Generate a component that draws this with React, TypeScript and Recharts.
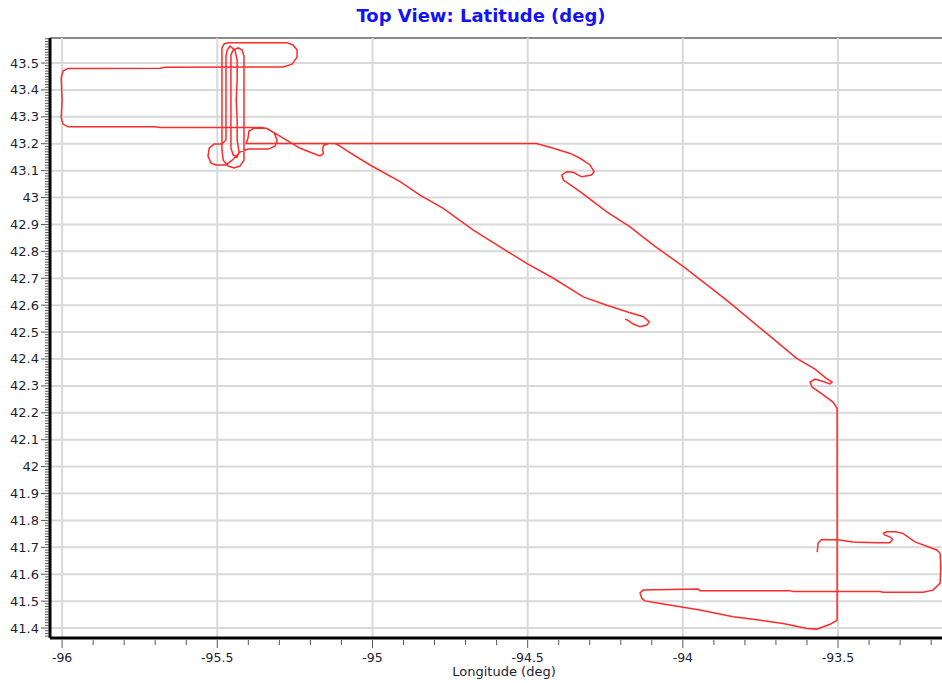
import { LineChart, Line, XAxis, YAxis, CartesianGrid, Label } from "recharts"

const W = 942
const H = 683

// flight track as [longitude, latitude], in flight order
const hookLeg: [number, number][] = [
  [-94.186, 42.548], [-94.179, 42.545], [-94.16, 42.53], [-94.138, 42.52],
  [-94.116, 42.526], [-94.108, 42.538], [-94.127, 42.557], [-94.17, 42.572],
  [-94.245, 42.6], [-94.321, 42.631], [-94.417, 42.7], [-94.503, 42.755],
  [-94.589, 42.817], [-94.675, 42.879], [-94.772, 42.96], [-94.847, 43.009],
  [-94.911, 43.059], [-95.008, 43.121], [-95.083, 43.174], [-95.104, 43.191],
  [-95.12, 43.201], [-95.142, 43.201], [-95.158, 43.193], [-95.161, 43.179],
  [-95.158, 43.164], [-95.169, 43.155], [-95.19, 43.164], [-95.233, 43.183],
  [-95.282, 43.217], [-95.34, 43.257],
]

const boxLeg: [number, number][] = [
  [-95.356, 43.26], [-95.684, 43.26], [-95.7, 43.263], [-95.981, 43.263],
  [-95.997, 43.273], [-96.003, 43.296], [-96.0, 43.362], [-96.003, 43.444],
  [-95.997, 43.47], [-95.981, 43.48], [-95.684, 43.481], [-95.668, 43.484],
  [-95.288, 43.485], [-95.259, 43.496], [-95.243, 43.522], [-95.243, 43.548],
  [-95.256, 43.567], [-95.275, 43.575],
]

// back-and-forth passes around -95.45
const clusterLeg: [number, number][] = [
  [-95.41, 43.575], [-95.465, 43.575], [-95.478, 43.571], [-95.485, 43.556],
  [-95.485, 43.362], [-95.485, 43.177], [-95.481, 43.139], [-95.465, 43.117],
  [-95.446, 43.11], [-95.427, 43.117], [-95.414, 43.139], [-95.414, 43.362],
  [-95.414, 43.526], [-95.42, 43.548], [-95.433, 43.556], [-95.449, 43.548],
  [-95.456, 43.53], [-95.456, 43.362], [-95.456, 43.184], [-95.449, 43.158],
  [-95.436, 43.151], [-95.43, 43.169], [-95.436, 43.214], [-95.436, 43.288],
  [-95.439, 43.362], [-95.436, 43.437], [-95.436, 43.511], [-95.443, 43.548],
  [-95.459, 43.563], [-95.468, 43.548], [-95.472, 43.526], [-95.472, 43.362],
  [-95.472, 43.214], [-95.485, 43.199], [-95.51, 43.199], [-95.526, 43.184],
  [-95.53, 43.154], [-95.52, 43.128], [-95.504, 43.121], [-95.472, 43.121],
  [-95.452, 43.139], [-95.427, 43.169], [-95.401, 43.18], [-95.336, 43.18],
  [-95.314, 43.191], [-95.307, 43.214], [-95.317, 43.24], [-95.343, 43.258],
  [-95.381, 43.258], [-95.398, 43.247], [-95.401, 43.221], [-95.407, 43.201],
]

const eastLeg: [number, number][] = [
  [-94.814, 43.201], [-94.525, 43.201], [-94.471, 43.201], [-94.417, 43.183],
  [-94.363, 43.164], [-94.331, 43.146], [-94.299, 43.121], [-94.286, 43.096],
  [-94.294, 43.084], [-94.326, 43.077], [-94.353, 43.094], [-94.374, 43.096],
  [-94.39, 43.084], [-94.385, 43.065], [-94.331, 43.022], [-94.245, 42.947],
  [-94.17, 42.891], [-94.095, 42.823], [-93.998, 42.743], [-93.859, 42.619],
  [-93.73, 42.495], [-93.633, 42.402], [-93.574, 42.362], [-93.539, 42.329],
  [-93.519, 42.314], [-93.526, 42.307], [-93.552, 42.318], [-93.574, 42.325],
  [-93.59, 42.314], [-93.584, 42.296], [-93.552, 42.27], [-93.516, 42.24],
  [-93.503, 42.217],
]

const southLeg: [number, number][] = [
  [-93.503, 41.429], [-93.526, 41.414], [-93.568, 41.396], [-93.6, 41.398],
  [-93.677, 41.417], [-93.774, 41.433], [-93.838, 41.442], [-93.945, 41.467],
  [-94.073, 41.491], [-94.122, 41.501], [-94.132, 41.51], [-94.138, 41.53],
  [-94.128, 41.541], [-93.951, 41.545], [-93.945, 41.539], [-93.655, 41.539],
  [-93.645, 41.536], [-93.365, 41.536], [-93.355, 41.533], [-93.226, 41.533],
  [-93.194, 41.541], [-93.171, 41.567], [-93.169, 41.627], [-93.171, 41.678],
  [-93.182, 41.69], [-93.252, 41.72], [-93.291, 41.752], [-93.316, 41.758],
  [-93.343, 41.758], [-93.354, 41.752], [-93.349, 41.745], [-93.333, 41.739],
  [-93.324, 41.729], [-93.333, 41.717], [-93.375, 41.717], [-93.452, 41.72],
  [-93.494, 41.727], [-93.553, 41.729], [-93.564, 41.716], [-93.567, 41.682],
]

const lonDomain = [-96.039, -93.165]
const latDomain = [41.363, 43.593]

const lonLabels = [-96, -95.5, -95, -94.5, -94, -93.5]
const latLabels = [
  41.4, 41.5, 41.6, 41.7, 41.8, 41.9, 42, 42.1, 42.2, 42.3, 42.4,
  42.5, 42.6, 42.7, 42.8, 42.9, 43, 43.1, 43.2, 43.3, 43.4, 43.5,
]

const track = [...hookLeg, ...boxLeg, ...clusterLeg, ...eastLeg, ...southLeg].map(
  ([lon, lat]) => ({ lon, lat })
)

// minor ticks: every 0.1 deg on longitude, every 0.01 deg on latitude
const lonTicks: number[] = []
for (let i = -960; i <= -932; i++) lonTicks.push(i / 10)
const latTicks: number[] = []
for (let i = 4137; i <= 4359; i++) latTicks.push(i / 100)

const FONT = "DejaVu Sans, Verdana, sans-serif"

function LatTick(props: any) {
  const { y, payload } = props
  const v = payload.value as number
  const major = Math.abs(v * 10 - Math.round(v * 10)) < 1e-6
  return (
    <g>
      <line x1={major ? 41 : 45} x2={49} y1={y} y2={y} stroke="#555" strokeWidth={1} />
      {major && (
        <text x={39} y={y + 4.5} textAnchor="end" fontSize={13} fill="#1d1d33" fontFamily={FONT}>
          {String(Number(v.toFixed(1)))}
        </text>
      )}
    </g>
  )
}

function LonTick(props: any) {
  const { x, payload } = props
  const v = payload.value as number
  const major = Math.abs(v * 2 - Math.round(v * 2)) < 1e-6
  return (
    <g>
      <line x1={x} x2={x} y1={640} y2={major ? 648 : 645} stroke="#555" strokeWidth={1} />
      {major && (
        <text x={x} y={662} textAnchor="middle" fontSize={12.5} fill="#1d1d33" fontFamily={FONT}>
          {String(v)}
        </text>
      )}
    </g>
  )
}

export default function App() {
  return (
    <div style={{ position: "absolute", left: 0, top: 0, width: W, height: H, background: "#fff" }}>
      <div
        style={{
          position: "absolute",
          left: 0,
          top: 5,
          width: 962,
          textAlign: "center",
          color: "#1414f0",
          fontFamily: FONT,
          fontWeight: "bold",
          fontSize: 18,
        }}
      >
        Top View: Latitude (deg)
      </div>
      <div style={{ position: "absolute", left: 50, top: 37, width: W - 50, height: 2, background: "#8a8a8a" }} />
      <LineChart width={W} height={H} data={track} margin={{ top: 38, right: 0, bottom: 0, left: 0 }}>
        <CartesianGrid
          stroke="#d9d9d9"
          strokeWidth={2}
          horizontalValues={latLabels}
          verticalValues={lonLabels}
        />
        <XAxis
          type="number"
          dataKey="lon"
          domain={lonDomain}
          ticks={lonTicks}
          interval={0}
          allowDataOverflow
          height={45}
          tick={<LonTick />}
          tickLine={false}
          axisLine={{ stroke: "#000", strokeWidth: 3 }}
        >
          <Label
            value="Longitude (deg)"
            position="insideBottom"
            offset={7}
            dx={8}
            style={{ fontSize: 13, fill: "#1d1d33", fontFamily: FONT }}
          />
        </XAxis>
        <YAxis
          type="number"
          domain={latDomain}
          ticks={latTicks}
          interval={0}
          allowDataOverflow
          width={50}
          tick={<LatTick />}
          tickLine={false}
          axisLine={{ stroke: "#000", strokeWidth: 3 }}
        />
        <Line
          type="linear"
          dataKey="lat"
          stroke="#ff2a2a"
          strokeWidth={1.5}
          dot={false}
          isAnimationActive={false}
        />
      </LineChart>
    </div>
  )
}
